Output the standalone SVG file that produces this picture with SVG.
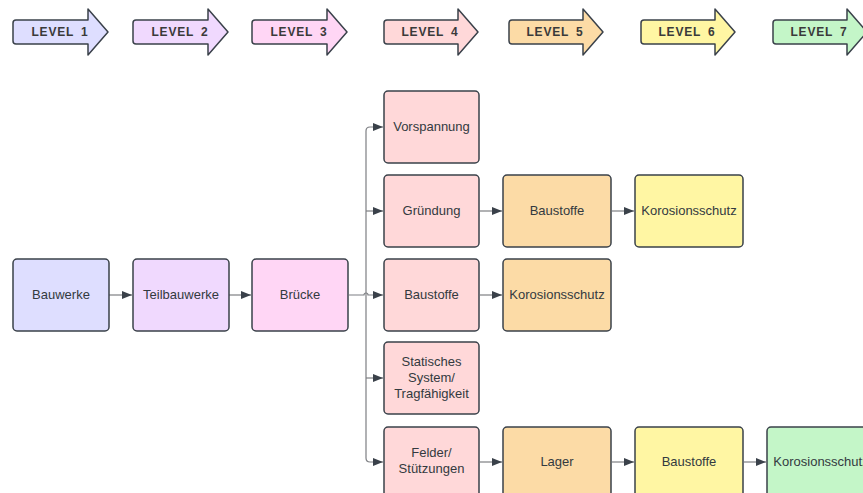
<svg xmlns="http://www.w3.org/2000/svg" width="863" height="493" viewBox="0 0 863 493">
<defs>
<style>
.lv{stroke:#3a414a;stroke-width:1.5;stroke-linejoin:round}
.lt{font-family:"Liberation Sans",Arial,sans-serif;font-size:12px;font-weight:bold;fill:#3a3a3a;text-anchor:middle;letter-spacing:0.8px;word-spacing:3px}
.n rect{stroke:#3a414a;stroke-width:1.5}
.n text{font-family:"Liberation Sans",Arial,sans-serif;font-size:13px;fill:#333a40;text-anchor:middle}
.c1{fill:#dedeff}.c2{fill:#f0d9fe}.c3{fill:#ffd6f5}.c4{fill:#ffd8d9}.c5{fill:#fcdba6}.c6{fill:#fff6a3}.c7{fill:#c4f6c8}
.con path{fill:none;stroke:#7d7f83;stroke-width:1.2}
</style>
<marker id="ah" viewBox="0 0 10 8" refX="10" refY="4" markerWidth="10" markerHeight="8" markerUnits="userSpaceOnUse" orient="auto">
<path d="M0,0 L10,4 L0,8 Z" fill="#3a414a"/>
</marker>
</defs>

<g id="levels">
<g id="level1"><path class="lv c1" d="M16,20 H88 V9 L108,32 L88,55 V44 H16 Q13,44 13,41 V23 Q13,20 16,20 Z"/><text class="lt" x="60" y="36">LEVEL 1</text></g>
<g id="level2"><path class="lv c2" d="M136,20 H208 V9 L228,32 L208,55 V44 H136 Q133,44 133,41 V23 Q133,20 136,20 Z"/><text class="lt" x="180" y="36">LEVEL 2</text></g>
<g id="level3"><path class="lv c3" d="M255,20 H327 V9 L347,32 L327,55 V44 H255 Q252,44 252,41 V23 Q252,20 255,20 Z"/><text class="lt" x="299" y="36">LEVEL 3</text></g>
<g id="level4"><path class="lv c4" d="M387,20 H458 V9 L478,32 L458,55 V44 H387 Q384,44 384,41 V23 Q384,20 387,20 Z"/><text class="lt" x="430" y="36">LEVEL 4</text></g>
<g id="level5"><path class="lv c5" d="M512,20 H583 V9 L603,32 L583,55 V44 H512 Q509,44 509,41 V23 Q509,20 512,20 Z"/><text class="lt" x="555" y="36">LEVEL 5</text></g>
<g id="level6"><path class="lv c6" d="M644,20 H715 V9 L735,32 L715,55 V44 H644 Q641,44 641,41 V23 Q641,20 644,20 Z"/><text class="lt" x="687" y="36">LEVEL 6</text></g>
<g id="level7"><path class="lv c7" d="M776,20 H847 V9 L867,32 L847,55 V44 H776 Q773,44 773,41 V23 Q773,20 776,20 Z"/><text class="lt" x="819" y="36">LEVEL 7</text></g>
</g>

<g class="con" id="connectors">
<path d="M109,295 H132" marker-end="url(#ah)"/>
<path d="M229,295 H251" marker-end="url(#ah)"/>
<path d="M349,295 H364 A2,2 0 0 1 368,295 H383" marker-end="url(#ah)"/>
<path d="M366,295 V131 Q366,127 370,127 H383" marker-end="url(#ah)"/>
<path d="M366,211 H383" marker-end="url(#ah)"/>
<path d="M366,295 V458 Q366,462 370,462 H383" marker-end="url(#ah)"/>
<path d="M366,378 H383" marker-end="url(#ah)"/>
<path d="M480,211 H502" marker-end="url(#ah)"/>
<path d="M480,295 H502" marker-end="url(#ah)"/>
<path d="M480,462 H502" marker-end="url(#ah)"/>
<path d="M612,211 H634" marker-end="url(#ah)"/>
<path d="M612,462 H634" marker-end="url(#ah)"/>
<path d="M744,462 H766" marker-end="url(#ah)"/>
</g>

<g id="bauwerke" class="n"><rect class="c1" x="13" y="259" width="96" height="72" rx="4"/><text x="61" y="299">Bauwerke</text></g>
<g id="teilbauwerke" class="n"><rect class="c2" x="133" y="259" width="96" height="72" rx="4"/><text x="181" y="299">Teilbauwerke</text></g>
<g id="bruecke" class="n"><rect class="c3" x="252" y="259" width="96" height="72" rx="4"/><text x="300" y="299">Brücke</text></g>

<g id="vorspannung" class="n"><rect class="c4" x="384" y="91" width="95" height="72" rx="4"/><text x="431.5" y="131">Vorspannung</text></g>
<g id="gruendung" class="n"><rect class="c4" x="384" y="175" width="95" height="72" rx="4"/><text x="431.5" y="215">Gründung</text></g>
<g id="baustoffe4" class="n"><rect class="c4" x="384" y="259" width="95" height="72" rx="4"/><text x="431.5" y="299">Baustoffe</text></g>
<g id="statisches" class="n"><rect class="c4" x="384" y="342" width="95" height="72" rx="4"/><text x="431.5" y="366">Statisches</text><text x="431.5" y="382">System/</text><text x="431.5" y="398">Tragfähigkeit</text></g>
<g id="felder" class="n"><rect class="c4" x="384" y="427" width="95" height="72" rx="4"/><text x="431.5" y="457">Felder/</text><text x="431.5" y="473">Stützungen</text></g>

<g id="baustoffe5" class="n"><rect class="c5" x="503" y="175" width="108" height="72" rx="4"/><text x="557" y="215">Baustoffe</text></g>
<g id="korosion5" class="n"><rect class="c5" x="503" y="259" width="108" height="72" rx="4"/><text x="557" y="299">Korosionsschutz</text></g>
<g id="lager" class="n"><rect class="c5" x="503" y="427" width="108" height="72" rx="4"/><text x="557" y="466">Lager</text></g>

<g id="korosion6" class="n"><rect class="c6" x="635" y="175" width="108" height="72" rx="4"/><text x="689" y="215">Korosionsschutz</text></g>
<g id="baustoffe6" class="n"><rect class="c6" x="635" y="427" width="108" height="72" rx="4"/><text x="689" y="466">Baustoffe</text></g>

<g id="korosion7" class="n"><rect class="c7" x="767" y="427" width="108" height="72" rx="4"/><text x="821" y="466">Korosionsschutz</text></g>
</svg>
